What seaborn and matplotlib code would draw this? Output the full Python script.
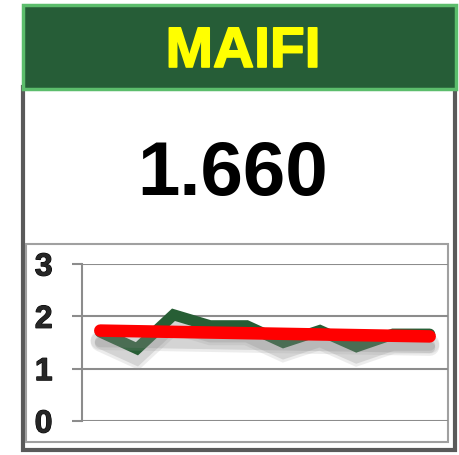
import numpy as np
import matplotlib
matplotlib.use('Agg')
import matplotlib.pyplot as plt
import matplotlib.patheffects as pe
from matplotlib.patches import Rectangle
import seaborn as sns

# data
title = 'MAIFI'
big_value = '1.660'
periods = list(range(10))
maifi = [1.70, 1.38, 2.03, 1.82, 1.82, 1.50, 1.73, 1.42, 1.66, 1.66]
y_ticks = [0, 1, 2, 3]

sns.set_style('white')
plt.rcParams['font.family'] = ['Liberation Sans', 'DejaVu Sans']

W, H = 460, 456
fig = plt.figure(figsize=(W / 100, H / 100), dpi=100)
fig.patch.set_facecolor('white')

# background layer in pixel coordinates for the card frame
bg = fig.add_axes([0, 0, 1, 1])
bg.set_xlim(0, W)
bg.set_ylim(H, 0)
bg.axis('off')

dark_green = '#265d37'
light_green = '#5cbd6c'
frame_gray = '#5a5a5a'

# white body with dark gray sides
bg.add_patch(Rectangle((23.5, 88), 432, 363, facecolor='white', edgecolor=frame_gray, lw=3))
# header band
bg.add_patch(Rectangle((23, 5.5), 433, 84, facecolor=dark_green, edgecolor=light_green, lw=2.5))
# chart panel border
bg.add_patch(Rectangle((26, 245), 422, 198, facecolor='none', edgecolor='#a0a0a0', lw=1.5))

bg.text(243, 53, title, color='#ffff00', fontsize=41, fontweight='bold',
        ha='center', va='center',
        path_effects=[pe.withStroke(linewidth=1.2, foreground='#ffff00')])
bg.text(233, 176, big_value, color='black', fontsize=55, fontweight='bold',
        ha='center', va='center')

# line chart
ax = fig.add_axes([82 / W, (H - 422) / H, 366 / W, 157 / H])
ax.set_facecolor('none')

shadow = [pe.SimpleLineShadow(offset=(0, -7), shadow_color='#9a9a9a', alpha=0.18, linewidth=14),
          pe.SimpleLineShadow(offset=(0, -8), shadow_color='#808080', alpha=0.22, linewidth=8),
          pe.Normal()]

sns.lineplot(x=periods, y=maifi, ax=ax, color='#275e35', lw=8, zorder=3)
sns.regplot(x=periods, y=maifi, ax=ax, scatter=False, ci=None, truncate=True,
            line_kws=dict(color='#ff0000', lw=9, solid_capstyle='round', zorder=4))
for ln in ax.lines:
    ln.set_path_effects(shadow)
ax.lines[0].set_solid_joinstyle('miter')

ax.set_xlim(-0.5, 9.5)
ax.set_ylim(0, 3)
ax.set_yticks(y_ticks)
ax.set_xticks([])
ax.yaxis.grid(True, color='#8c8c8c', lw=1.5)
ax.tick_params(axis='y', length=7.2, width=1.5, color='#8c8c8c', pad=14,
               labelsize=23, left=True)
for lab in ax.get_yticklabels():
    lab.set_fontweight('bold')
    lab.set_path_effects([pe.withStroke(linewidth=0.8, foreground='black')])
for s in ['top', 'right', 'bottom']:
    ax.spines[s].set_visible(False)
ax.spines['left'].set_color('#8c8c8c')
ax.spines['left'].set_linewidth(1.5)
ax.set_xlabel('')
ax.set_ylabel('')

fig.savefig('out.png', dpi=100)
